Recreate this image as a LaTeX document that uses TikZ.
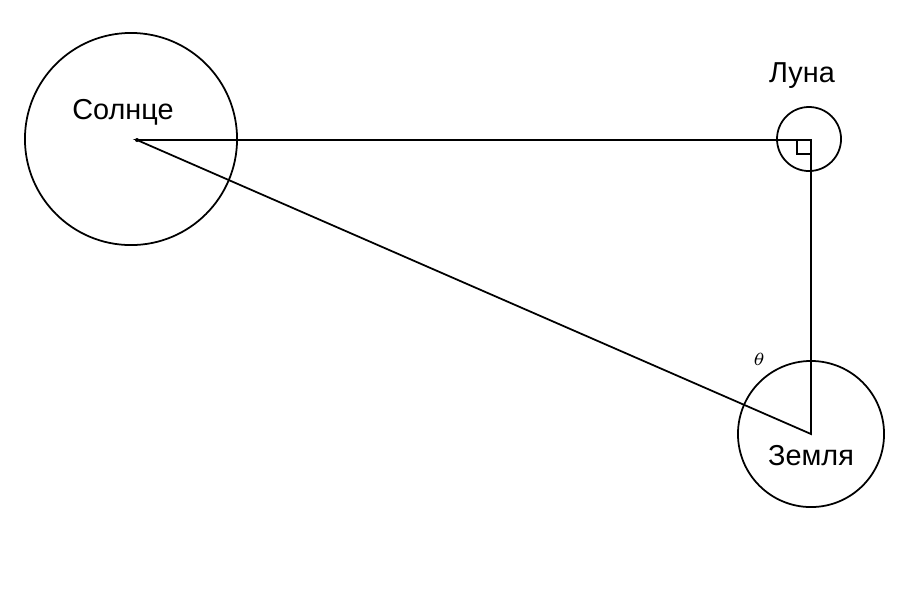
\documentclass[tikz,border=0pt]{standalone}
\usepackage{fontspec}
\setmainfont{Liberation Sans}
\usetikzlibrary{positioning}

\tikzset{
  body/.style={draw, circle, inner sep=0pt, line width=0.5pt},
  bodyname/.style={font=\fontsize{8.2}{10}\selectfont},
  ray/.style={line width=0.5pt},
}

\begin{document}
\begin{tikzpicture}[x=0.01cm, y=-0.01cm]
    \useasboundingbox (0,0) rectangle (898,596);

    % bodies
    \node[body, minimum size=2.12cm] (sun) at (131,139) {};
    \node[body, minimum size=0.64cm] (moon) at (809,139) {};
    \node[body, minimum size=1.46cm] (earth) at (811,434) {};

    \coordinate (S) at (137,140);
    \coordinate (L) at (811,140);
    \coordinate (E) at (811,434);

    % triangle
    \draw[ray] (S) -- (L) -- (E) -- cycle;
    \draw[ray] ([xshift=-0.14cm]L) |- ([yshift=-0.14cm]L);
    \fill (S) circle (0.02cm);

    % labels
    \node[bodyname] (sunname) at (123,112) {Солнце};
    \node[bodyname] (moonname) at (802,76) {Луна};
    \node[bodyname] (earthname) at (811,456) {Земля};
    \node[font=\fontsize{5}{6}\selectfont] (angle) at (759,359) {$\theta$};
\end{tikzpicture}
\end{document}
